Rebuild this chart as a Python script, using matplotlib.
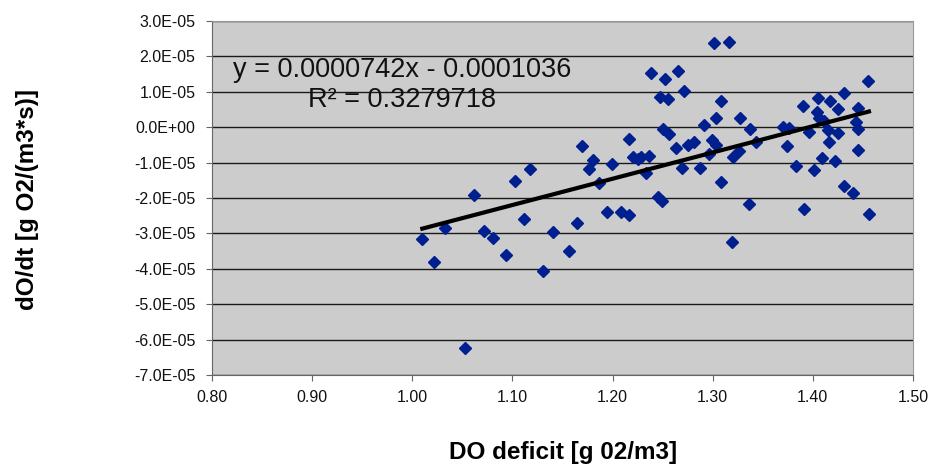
import numpy as np
import matplotlib
matplotlib.use("Agg")
import matplotlib.pyplot as plt
from matplotlib.ticker import FuncFormatter, MultipleLocator

plt.rcParams['font.family'] = ['Liberation Sans', 'DejaVu Sans']

# DO deficit [g O2/m3] vs dO/dt [g O2/(m3*s)]
do_deficit = [
    1.010, 1.022, 1.033, 1.053, 1.062, 1.072, 1.081, 1.094, 1.103, 1.118,
    1.112, 1.131, 1.141, 1.156, 1.164, 1.169, 1.180, 1.176, 1.186, 1.194,
    1.199, 1.208, 1.216, 1.216, 1.220, 1.225, 1.228, 1.236, 1.233, 1.238,
    1.301, 1.316, 1.252, 1.265, 1.247, 1.255, 1.271, 1.308, 1.303, 1.291,
    1.250, 1.256, 1.263, 1.275, 1.281, 1.299, 1.303, 1.296, 1.269, 1.287,
    1.308, 1.245, 1.249, 1.319, 1.327, 1.337, 1.343, 1.326, 1.320, 1.336,
    1.370, 1.376, 1.374, 1.383, 1.390, 1.391, 1.455, 1.405, 1.431, 1.417,
    1.425, 1.445, 1.404, 1.406, 1.411, 1.415, 1.425, 1.443, 1.445, 1.396,
    1.416, 1.445, 1.409, 1.422, 1.401, 1.431, 1.440, 1.456,
]
do_rate = [
    -3.15, -3.80, -2.85, -6.25, -1.92, -2.93, -3.13, -3.61, -1.52, -1.18,
    -2.59, -4.06, -2.96, -3.49, -2.70, -0.54, -0.93, -1.18, -1.58, -2.39,
    -1.04, -2.39, -2.48, -0.34, -0.85, -0.90, -0.85, -0.80, -1.30, 1.52,
    2.37, 2.42, 1.35, 1.58, 0.85, 0.79, 1.01, 0.73, 0.25, 0.06,
    -0.06, -0.20, -0.59, -0.51, -0.42, -0.37, -0.51, -0.76, -1.15, -1.15,
    -1.55, -1.97, -2.08, -3.24, 0.25, -0.06, -0.42, -0.68, -0.85, -2.17,
    0.00, -0.03, -0.53, -1.10, 0.59, -2.31, 1.30, 0.82, 0.96, 0.73,
    0.51, 0.54, 0.42, 0.25, 0.17, -0.08, -0.17, 0.14, -0.06, -0.14,
    -0.42, -0.65, -0.87, -0.96, -1.21, -1.66, -1.86, -2.45,
]
do_rate = [v * 1e-5 for v in do_rate]

# linear trendline from the chart label
slope = 0.0000742
intercept = -0.0001036
r_squared = 0.3279718

fig = plt.figure(figsize=(9.32, 4.66), dpi=100)
ax = fig.add_axes([212 / 932, 1 - 375 / 466, 701 / 932, 354 / 466])
ax.set_facecolor('#cccccc')

ax.set_xlim(0.80, 1.50)
ax.set_ylim(-7e-5, 3e-5)
ax.xaxis.set_major_locator(MultipleLocator(0.1))
ax.yaxis.set_major_locator(MultipleLocator(1e-5))
ax.xaxis.set_major_formatter(FuncFormatter(lambda v, p: f"{v:.2f}"))
ax.yaxis.set_major_formatter(FuncFormatter(lambda v, p: f"{v:.1E}"))
ax.grid(True, axis='y', color='#1a1a1a', linewidth=1.0)
ax.set_axisbelow(True)

for side in ['top', 'right']:
    ax.spines[side].set_color('#999999')
for side in ['left', 'bottom']:
    ax.spines[side].set_color('#666666')
ax.tick_params(axis='both', direction='out', length=4, color='#666666',
               labelsize=11.5, labelcolor='#111111')
ax.tick_params(axis='y', pad=8)
ax.tick_params(axis='x', pad=7)

ax.plot(do_deficit, do_rate, linestyle='none', marker='D', markersize=6.5,
        color='#00208f', zorder=3)

xs = np.array([min(do_deficit), max(do_deficit)])
ax.plot(xs, slope * xs + intercept, color='black', linewidth=3, zorder=4)

ax.text(0.99, 1.61e-5, f"y = {slope:.7f}x - {abs(intercept):.7f}",
        ha='center', va='center', fontsize=19.5, color='#111111')
ax.text(0.99, 0.76e-5, f"R² = {r_squared:.7f}",
        ha='center', va='center', fontsize=19.5, color='#111111')

fig.text(563 / 932, 1 - 452 / 466, "DO deficit [g 02/m3]", ha='center',
         va='center', fontsize=17.5, fontweight='bold')
fig.text(28 / 932, 1 - 200 / 466, "dO/dt [g O2/(m3*s)]", ha='center',
         va='center', rotation=90, fontsize=17.5, fontweight='bold')

fig.savefig("out.png", dpi=100)
